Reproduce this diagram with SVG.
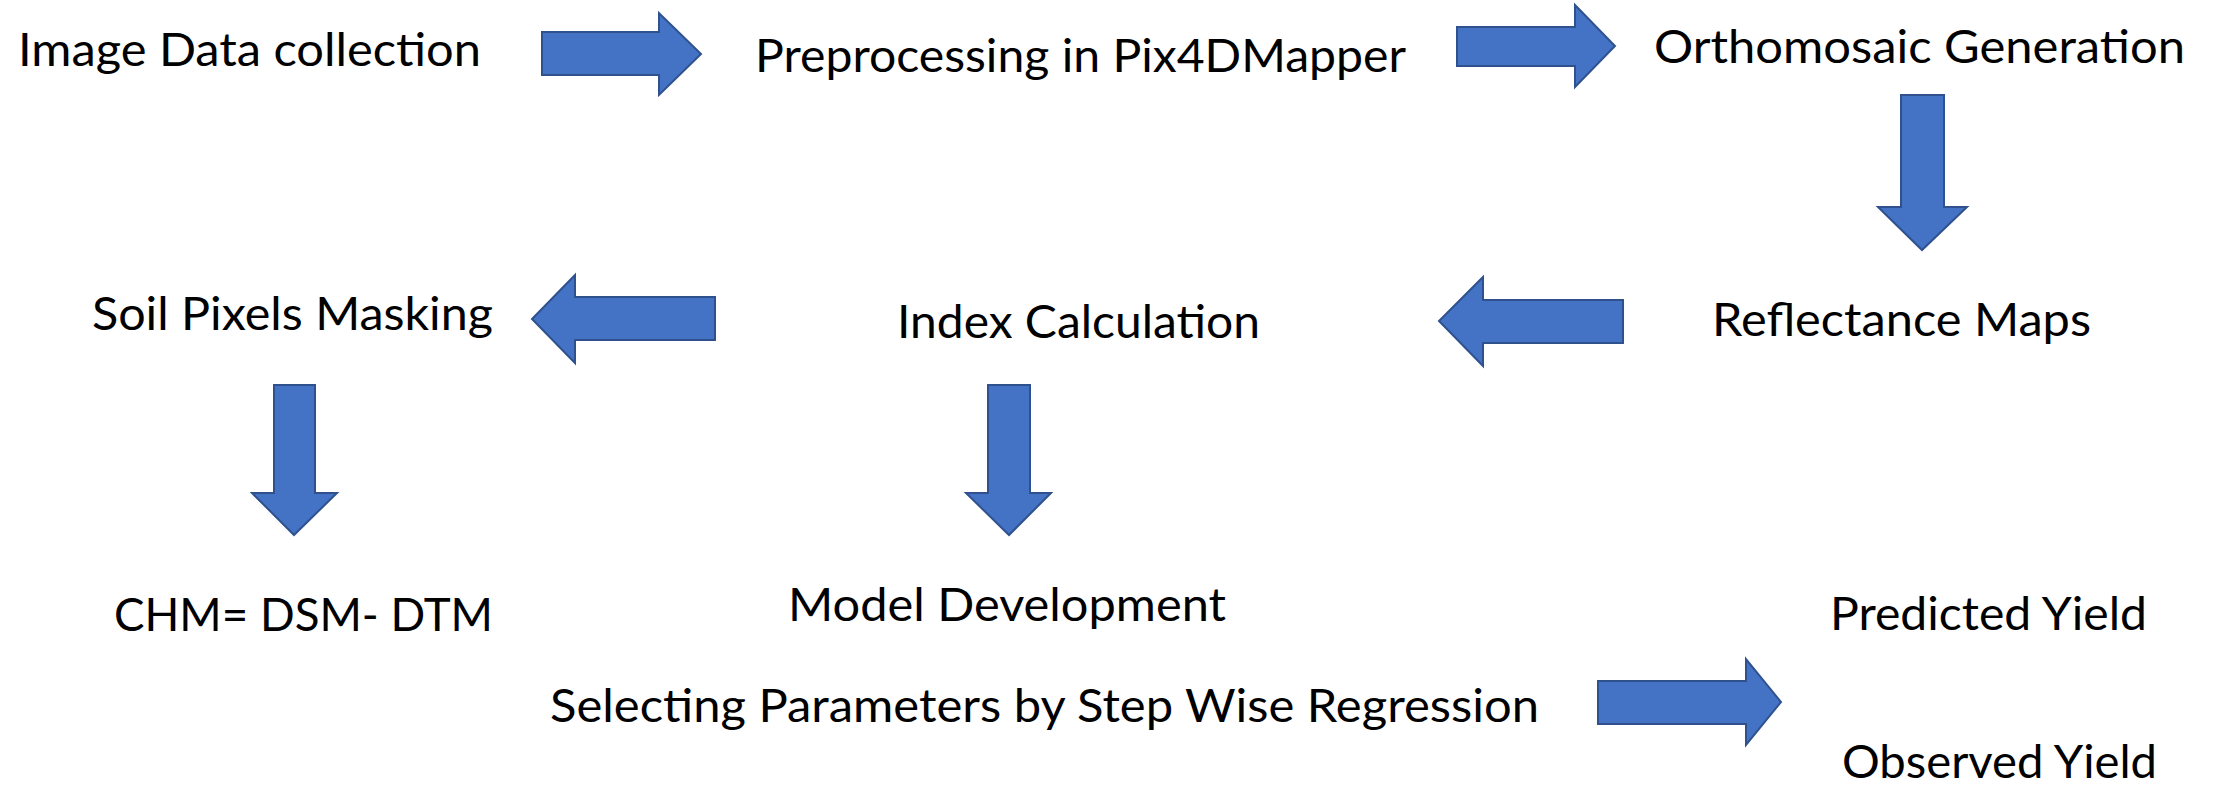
<svg xmlns="http://www.w3.org/2000/svg" width="2214" height="785" viewBox="0 0 2214 785">
<style>
.t{font-family:Lato,"Open Sans","Liberation Sans",sans-serif;font-size:47px;fill:#000}
.a{fill:#4472C4;stroke:#2F528F;stroke-width:2;stroke-linejoin:miter}
</style>
<rect width="2214" height="785" fill="#fff"/>
<g id="n1"><text class="t" x="18" y="66" textLength="463" lengthAdjust="spacingAndGlyphs">Image Data collection</text></g>
<g id="n2"><text class="t" x="755" y="72" textLength="651" lengthAdjust="spacingAndGlyphs">Preprocessing in Pix4DMapper</text></g>
<g id="n3"><text class="t" x="1654" y="63" textLength="531" lengthAdjust="spacingAndGlyphs">Orthomosaic Generation</text></g>
<g id="n4"><text class="t" x="1712" y="336" textLength="379" lengthAdjust="spacingAndGlyphs">Reflectance Maps</text></g>
<g id="n5"><text class="t" x="897" y="338" textLength="363" lengthAdjust="spacingAndGlyphs">Index Calculation</text></g>
<g id="n6"><text class="t" x="92" y="330" textLength="401" lengthAdjust="spacingAndGlyphs">Soil Pixels Masking</text></g>
<g id="n7"><text class="t" x="114" y="631" textLength="379" lengthAdjust="spacingAndGlyphs">CHM= DSM- DTM</text></g>
<g id="n8"><text class="t" x="788" y="621" textLength="438" lengthAdjust="spacingAndGlyphs">Model Development</text></g>
<g id="n9"><text class="t" x="550" y="722" textLength="989" lengthAdjust="spacingAndGlyphs">Selecting Parameters by Step Wise Regression</text></g>
<g id="n10"><text class="t" x="1830" y="630" textLength="317" lengthAdjust="spacingAndGlyphs">Predicted Yield</text></g>
<g id="n11"><text class="t" x="1842" y="778" textLength="315" lengthAdjust="spacingAndGlyphs">Observed Yield</text></g>
<g id="connectors">
<polygon class="a" points="542,32 659,32 659,13 701,54 659,95 659,75 542,75"/>
<polygon class="a" points="1457,27 1575,27 1575,5 1615,46 1575,87 1575,66 1457,66"/>
<polygon class="a" points="1901,95 1944,95 1944,207 1967,207 1922,250 1878,207 1901,207"/>
<polygon class="a" points="1623,300 1483,300 1483,277 1439,321 1483,366 1483,343 1623,343"/>
<polygon class="a" points="715,297 575,297 575,275 532,319 575,363 575,340 715,340"/>
<polygon class="a" points="274,385 315,385 315,493 337,493 294,535 252,493 274,493"/>
<polygon class="a" points="988,385 1030,385 1030,493 1051,493 1009,535 966,493 988,493"/>
<polygon class="a" points="1598,681 1746,681 1746,659 1781,702 1746,745 1746,724 1598,724"/>
</g>
</svg>
